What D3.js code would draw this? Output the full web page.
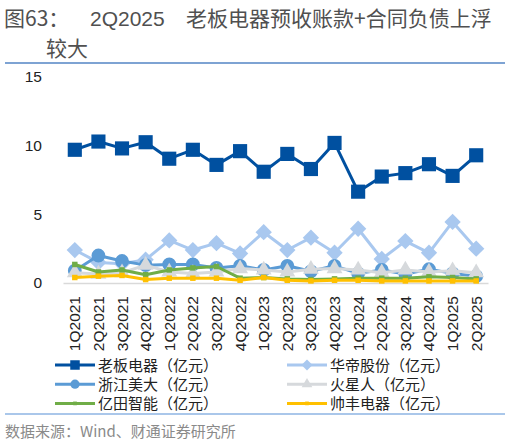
<!DOCTYPE html>
<html>
<head>
<meta charset="utf-8">
<script src="https://cdn.jsdelivr.net/npm/d3@7"></script>
<style>
  body { margin: 0; background: #fff; }
  svg { display: block; font-family: "Liberation Sans", "Noto Sans CJK SC", sans-serif; }
</style>
</head>
<body>
<svg id="chart"></svg>
<script>
const quarters = ["1Q2021","2Q2021","3Q2021","4Q2021","1Q2022","2Q2022","3Q2022","4Q2022","1Q2023",
  "2Q2023","3Q2023","4Q2023","1Q2024","2Q2024","3Q2024","4Q2024","1Q2025","2Q2025"];

const laoban   = [9.7, 10.3, 9.8, 10.25, 9.05, 9.7, 8.6, 9.6, 8.1, 9.4, 8.3, 10.2, 6.65, 7.75, 8.0, 8.65, 7.8, 9.3];
const huadi    = [2.4, 1.5, 1.4, 1.7, 3.1, 2.4, 2.9, 2.15, 3.7, 2.4, 3.3, 2.2, 3.95, 1.75, 3.05, 2.2, 4.45, 2.5];
const meida    = [0.9, 2.0, 1.6, 1.3, 1.35, 1.35, 1.1, 1.25, 0.95, 1.25, 0.85, 1.25, 0.7, 0.95, 0.65, 1.0, 0.7, 0.5];
const huoxing  = [0.75, 0.65, 0.75, 1.3, 0.8, 0.7, 0.8, 1.05, 0.95, 0.8, 1.0, 1.05, 0.95, 0.75, 0.95, 0.8, 0.9, 0.75];
const yitian   = [1.35, 0.8, 0.95, 0.6, 0.95, 1.1, 1.2, 0.35, 0.4, 0.3, 0.25, 0.3, 0.35, 0.35, 0.35, 0.45, 0.4, 0.3];
const shuaifeng = [0.4, 0.5, 0.55, 0.25, 0.35, 0.35, 0.35, 0.2, 0.4, 0.2, 0.15, 0.2, 0.2, 0.15, 0.15, 0.15, 0.15, 0.15];

const seriesNames = ["老板电器（亿元）","华帝股份（亿元）","浙江美大（亿元）","火星人（亿元）","亿田智能（亿元）","帅丰电器（亿元）"];
const yTicks = [0, 5, 10, 15];

const width = 510;
const height = 445;

const svg = d3.select("#chart").attr("width", width).attr("height", height);

const series = [
  { name: seriesNames[0], values: laoban,   color: "#0050a0", marker: "square",   size: 200 },
  { name: seriesNames[1], values: huadi,    color: "#a9c8ef", marker: "diamond",  size: 170 },
  { name: seriesNames[2], values: meida,    color: "#5b9bd5", marker: "circle",   size: 150 },
  { name: seriesNames[3], values: huoxing,  color: "#d6d9dc", marker: "triangle", size: 110 },
  { name: seriesNames[4], values: yitian,   color: "#70ad47", marker: "square",   size: 30 },
  { name: seriesNames[5], values: shuaifeng, color: "#ffc000", marker: "square",  size: 30 }
];

const symbolType = {
  square: d3.symbolSquare,
  diamond: d3.symbolDiamond2,
  circle: d3.symbolCircle,
  triangle: d3.symbolTriangle
};

// scales
let xScale = d3.scaleBand().domain(quarters).range([63, 488]);
let yScale = d3.scaleLinear().domain([0, 15]).range([283, 77]);
let cx = (q) => xScale(q) + xScale.bandwidth() / 2;

// frame lines and title
svg.append("line").attr("x1", 5).attr("x2", 505).attr("y1", 63).attr("y2", 63)
  .attr("stroke", "#7ea3d3").attr("stroke-width", 2);
svg.append("line").attr("x1", 5).attr("x2", 505).attr("y1", 414).attr("y2", 414)
  .attr("stroke", "#8eb4e3").attr("stroke-width", 1.5);

svg.append("text").attr("x", 4).attr("y", 26).attr("font-size", 21).attr("fill", "#505050")
  .attr("font-family", "Noto Sans CJK SC").text("图63：");
svg.append("text").attr("x", 90).attr("y", 26).attr("font-size", 21).attr("fill", "#505050")
  .text("2Q2025");
svg.append("text").attr("x", 186).attr("y", 26).attr("font-size", 21).attr("fill", "#505050")
  .attr("font-family", "Noto Sans CJK SC").text("老板电器预收账款+合同负债上浮");
svg.append("text").attr("x", 46).attr("y", 56).attr("font-size", 21).attr("fill", "#505050")
  .attr("font-family", "Noto Sans CJK SC").text("较大");

svg.append("text").attr("x", 5).attr("y", 437).attr("font-size", 15).attr("fill", "#8a8a8a")
  .attr("font-family", "Noto Sans CJK SC").text("数据来源：Wind、财通证券研究所");

// axes
let yAxis = d3.axisLeft(yScale).tickValues(yTicks).tickSize(0).tickPadding(0);
let gy = svg.append("g").attr("transform", "translate(42,0)").call(yAxis);
gy.select(".domain").remove();
gy.selectAll("text").attr("font-size", 15.5).attr("fill", "#222").attr("font-family", "Liberation Sans");

let xAxis = d3.axisBottom(xScale).tickSize(0).tickPadding(0);
let gx = svg.append("g").attr("transform", "translate(0,283)").call(xAxis);
gx.select(".domain").attr("stroke", "#d9d9d9").attr("stroke-width", 1.5);
gx.selectAll("text")
  .attr("font-size", 15.5).attr("fill", "#222").attr("font-family", "Liberation Sans")
  .attr("text-anchor", "end").attr("dy", null)
  .attr("transform", "translate(5.5,13) rotate(-90)");

// lines and markers
let line = d3.line().x((d, i) => cx(quarters[i])).y((d) => yScale(d));

series.forEach((s) => {
  let g = svg.append("g");
  g.append("path").datum(s.values).attr("d", line)
    .attr("fill", "none").attr("stroke", s.color).attr("stroke-width", 3)
    .attr("stroke-linejoin", "round");
  g.selectAll("path.m").data(s.values).enter().append("path").attr("class", "m")
    .attr("d", d3.symbol().type(symbolType[s.marker]).size(s.size))
    .attr("transform", (d, i) => "translate(" + cx(quarters[i]) + "," + yScale(d) + ")")
    .attr("fill", s.color);
});

// legend
let legend = svg.append("g");
series.forEach((s, i) => {
  let col = i % 2;
  let row = Math.floor(i / 2);
  let x0 = col === 0 ? 55 : 287;
  let y0 = 365 + row * 19.2;
  legend.append("line").attr("x1", x0).attr("x2", x0 + 40).attr("y1", y0).attr("y2", y0)
    .attr("stroke", s.color).attr("stroke-width", 3);
  legend.append("path")
    .attr("d", d3.symbol().type(symbolType[s.marker]).size(s.size * 0.45))
    .attr("transform", "translate(" + (x0 + 20) + "," + y0 + ")")
    .attr("fill", s.color);
  legend.append("text").attr("x", x0 + 43).attr("y", y0 + 5.5)
    .attr("font-size", 15).attr("fill", "#222").attr("font-family", "Noto Sans CJK SC")
    .text(s.name);
});
</script>
</body>
</html>
